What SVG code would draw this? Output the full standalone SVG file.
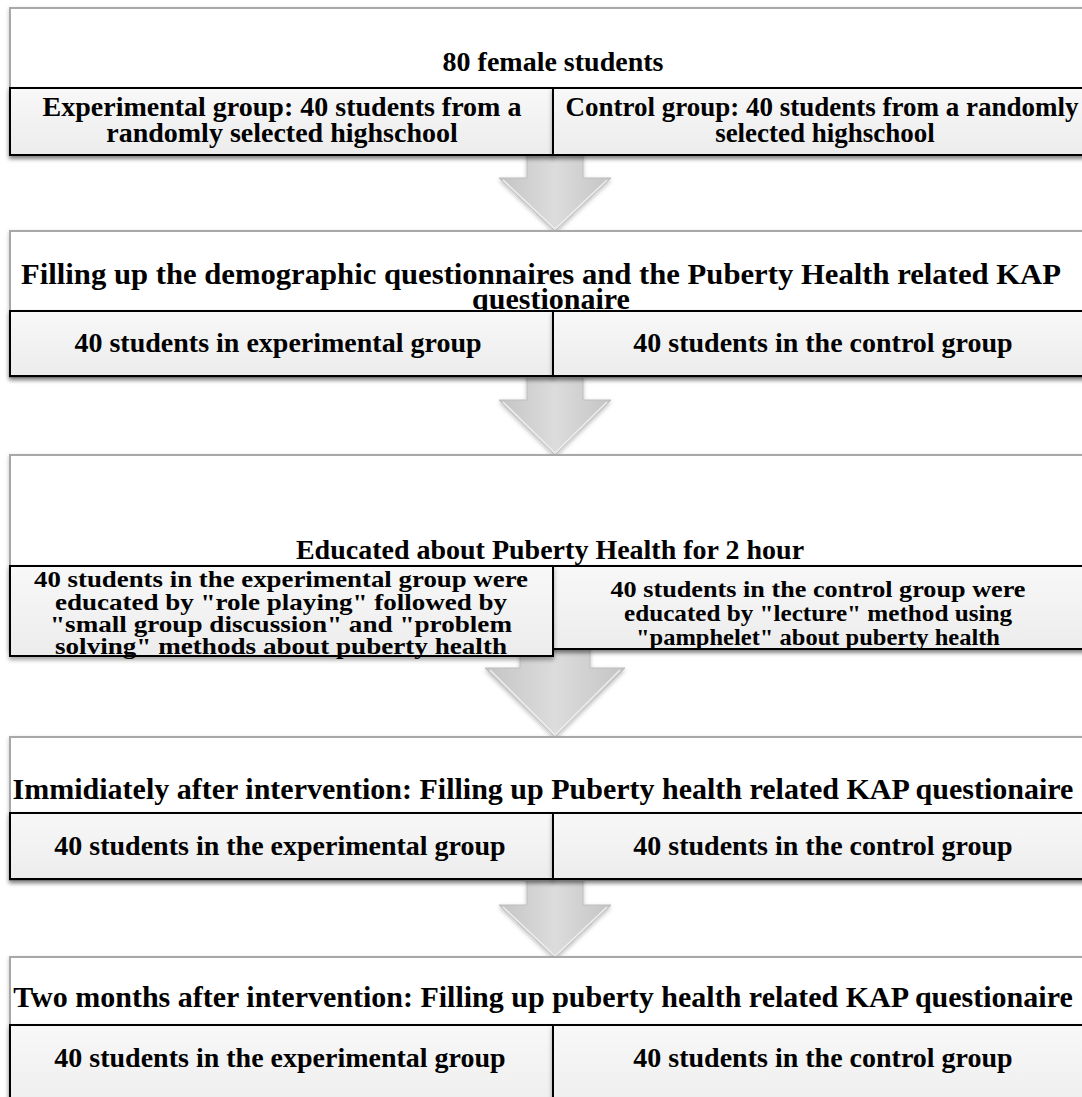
<svg xmlns="http://www.w3.org/2000/svg" width="1082" height="1097" viewBox="0 0 1082 1097">
<defs>
<linearGradient id="outerFill" x1="0" y1="0" x2="0" y2="1">
<stop offset="0" stop-color="#ffffff"/>
<stop offset="0.7" stop-color="#ffffff"/>
<stop offset="1" stop-color="#f1f1f1"/>
</linearGradient>
<linearGradient id="cellFill" x1="0" y1="0" x2="0" y2="1">
<stop offset="0" stop-color="#f8f8f8"/>
<stop offset="1" stop-color="#ececec"/>
</linearGradient>
<linearGradient id="arrowFill" x1="0" y1="0" x2="1" y2="0">
<stop offset="0" stop-color="#c4c4c4"/>
<stop offset="0.5" stop-color="#dcdcdc"/>
<stop offset="1" stop-color="#c4c4c4"/>
</linearGradient>
<filter id="shadow" x="-5%" y="-10%" width="110%" height="130%">
<feDropShadow dx="0" dy="3" stdDeviation="2" flood-color="#000" flood-opacity="0.35"/>
</filter>
<filter id="softShadow" x="-10%" y="-10%" width="120%" height="130%">
<feDropShadow dx="0" dy="2" stdDeviation="2" flood-color="#000" flood-opacity="0.25"/>
</filter>
</defs>
<style>
.outer{fill:url(#outerFill);stroke:#a8a8a8;stroke-width:2;filter:url(#softShadow)}
.cell{fill:url(#cellFill);stroke:#000;stroke-width:2;filter:url(#shadow)}
.arrow{fill:url(#arrowFill);stroke:#bdbdbd;stroke-width:1;filter:url(#softShadow)}
.bevel{fill:none;stroke:#ededed;stroke-width:1.5}
text{font-family:"Liberation Serif","Times New Roman",serif;font-weight:bold;fill:#000;text-anchor:middle}
.t28{font-size:28px}
.t27{font-size:27px}
.t30{font-size:30px}
.t23{font-size:23px}
</style>

<g id="connectors">
<g id="arrow1">
<path class="arrow" d="M527,150 H583 V178 H611 L555,231 L499,178 H527 Z"/>
<path class="bevel" d="M503,180 L555,229 L607,180"/>
</g>
<g id="arrow2">
<path class="arrow" d="M527,372 H583 V400 H611 L555,455 L499,400 H527 Z"/>
<path class="bevel" d="M503,402 L555,453 L607,402"/>
</g>
<g id="arrow3">
<path class="arrow" d="M520,648 H590 V668 H625 L555,737 L485,668 H520 Z"/>
<path class="bevel" d="M490,670 L555,735 L620,670"/>
</g>
<g id="arrow4">
<path class="arrow" d="M527,876 H583 V905 H611 L555,958 L499,905 H527 Z"/>
<path class="bevel" d="M503,907 L555,956 L607,907"/>
</g>
</g>

<g id="node-step1">
<rect class="outer" x="10" y="8" width="1085" height="147"/>
<text class="t28" x="553" y="71">80 female students</text>
<g id="node-step1-exp">
<rect class="cell" x="10" y="88" width="543" height="67"/>
<text class="t28" x="282" y="116">Experimental group: 40 students from a</text>
<text class="t28" x="282" y="142">randomly selected highschool</text>
</g>
<g id="node-step1-ctrl">
<rect class="cell" x="553" y="88" width="542" height="67"/>
<text class="t27" x="822" y="116">Control group: 40 students from a randomly</text>
<text class="t27" x="825" y="142">selected highschool</text>
</g>
</g>

<g id="node-step2">
<rect class="outer" x="10" y="231" width="1085" height="146"/>
<text class="t30" x="541" y="284" textLength="1040" lengthAdjust="spacingAndGlyphs">Filling up the demographic questionnaires and the Puberty Health related KAP</text>
<text class="t30" x="551" y="309">questionaire</text>
<g id="node-step2-exp">
<rect class="cell" x="10" y="311" width="543" height="65"/>
<text class="t28" x="278" y="352">40 students in experimental group</text>
</g>
<g id="node-step2-ctrl">
<rect class="cell" x="553" y="311" width="542" height="65"/>
<text class="t28" x="823" y="352">40 students in the control group</text>
</g>
</g>

<g id="node-step3">
<rect class="outer" x="10" y="455" width="1085" height="194"/>
<text class="t28" x="550" y="559">Educated about Puberty Health for 2 hour</text>
<g id="node-step3-ctrl">
<rect class="cell" x="553" y="566" width="542" height="83"/>
<text class="t23" x="818" y="597" textLength="415" lengthAdjust="spacingAndGlyphs">40 students in the control group were</text>
<text class="t23" x="818" y="621" textLength="388" lengthAdjust="spacingAndGlyphs">educated by "lecture" method using</text>
<text class="t23" x="818" y="645" textLength="364" lengthAdjust="spacingAndGlyphs">"pamphelet" about puberty health</text>
</g>
<g id="node-step3-exp">
<rect class="cell" x="10" y="566" width="543" height="90"/>
<text class="t23" x="281" y="587" textLength="494" lengthAdjust="spacingAndGlyphs">40 students in the experimental group were</text>
<text class="t23" x="281" y="610" textLength="452" lengthAdjust="spacingAndGlyphs">educated by "role playing" followed by</text>
<text class="t23" x="281" y="632" textLength="462" lengthAdjust="spacingAndGlyphs">"small group discussion" and "problem</text>
<text class="t23" x="281" y="654" textLength="452" lengthAdjust="spacingAndGlyphs">solving" methods about puberty health</text>
</g>
</g>

<g id="node-step4">
<rect class="outer" x="10" y="737" width="1085" height="143"/>
<text class="t30" x="543" y="799">Immidiately after intervention: Filling up Puberty health related KAP questionaire</text>
<g id="node-step4-exp">
<rect class="cell" x="10" y="813" width="543" height="66"/>
<text class="t28" x="280" y="855">40 students in the experimental group</text>
</g>
<g id="node-step4-ctrl">
<rect class="cell" x="553" y="813" width="542" height="66"/>
<text class="t28" x="823" y="855">40 students in the control group</text>
</g>
</g>

<g id="node-step5">
<rect class="outer" x="10" y="957" width="1085" height="160"/>
<text class="t30" x="543" y="1007">Two months after intervention: Filling up puberty health related KAP questionaire</text>
<g id="node-step5-exp">
<rect class="cell" x="10" y="1025" width="543" height="95"/>
<text class="t28" x="280" y="1067">40 students in the experimental group</text>
</g>
<g id="node-step5-ctrl">
<rect class="cell" x="553" y="1025" width="542" height="95"/>
<text class="t28" x="823" y="1067">40 students in the control group</text>
</g>
</g>
</svg>
